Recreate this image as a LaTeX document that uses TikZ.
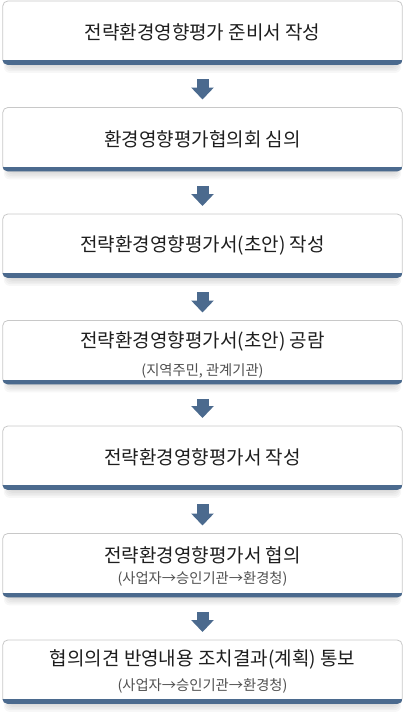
\documentclass[tikz,border=0pt]{standalone}
\usepackage{fontspec}
\newfontfamily\kr{Noto Sans CJK KR}
\usetikzlibrary{arrows.meta,backgrounds,calc}
\definecolor{bandblue}{RGB}{75,106,142}
\definecolor{boxline}{RGB}{200,200,200}
\definecolor{maintext}{RGB}{30,30,30}
\definecolor{subtext}{RGB}{80,80,80}
\begin{document}
\begin{tikzpicture}[x=1pt,y=1pt,
  box/.style={minimum width=399pt, minimum height=63pt, inner sep=0pt, anchor=north},
  maintxt/.style={font=\kr\fontsize{19}{22}\selectfont, text=maintext, inner sep=0pt},
  subtxt/.style={font=\kr\fontsize{14.3}{17}\selectfont, text=subtext, inner sep=0pt},
  flowarrow/.style={draw=bandblue, line width=12pt, -{Triangle[width=22pt,length=12pt]}},
]
\useasboundingbox (0,0) rectangle (413,-717);
\node[box] (b1) at (202.5,-1) {};
\node[box] (b2) at (202.5,-107.5) {};
\node[box] (b3) at (202.5,-214) {};
\node[box] (b4) at (202.5,-320.5) {};
\node[box] (b5) at (202.5,-426) {};
\node[box] (b6) at (202.5,-533.5) {};
\node[box] (b7) at (202.5,-640) {};

\node[maintxt] (t1) at ([yshift=-31.5pt]b1.north) {전략환경영향평가 준비서 작성};
\node[maintxt] (t2) at ([yshift=-31.5pt]b2.north) {환경영향평가협의회 심의};
\node[maintxt] (t3) at ([yshift=-31.5pt]b3.north) {전략환경영향평가서(초안) 작성};
\node[maintxt] (t4) at ([yshift=-20.5pt]b4.north) {전략환경영향평가서(초안) 공람};
\node[subtxt] (s4) at ([yshift=-50pt]b4.north) {(지역주민, 관계기관)};
\node[maintxt] (t5) at ([yshift=-31.5pt]b5.north) {전략환경영향평가서 작성};
\node[maintxt] (t6) at ([yshift=-22pt]b6.north) {전략환경영향평가서 협의};
\node[subtxt] (s6) at ([yshift=-45.5pt]b6.north) {(사업자→승인기관→환경청)};
\node[maintxt] (t7) at ([yshift=-19.5pt]b7.north) {협의의견 반영내용 조치결과(계획) 통보};
\node[subtxt] (s7) at ([yshift=-46pt]b7.north) {(사업자→승인기관→환경청)};

\begin{scope}[on background layer]
\foreach \n in {b1,b2,b3,b4,b5,b6,b7} {
  \foreach \k in {1,...,5} {
    \fill[black, opacity=0.03, rounded corners=6pt]
      ([xshift={(6-\k)*1pt}, yshift=-12pt]\n.north west) rectangle
      ([xshift={-(6-\k)*1pt}, yshift={-\k*1.7pt}]\n.south east);
  }
  \filldraw[fill=white, draw=boxline, line width=0.8pt, rounded corners=5pt]
    (\n.north west) rectangle (\n.south east);
  \begin{scope}
    \clip[rounded corners=5pt] ([xshift=-0.4pt,yshift=0.4pt]\n.north west) rectangle ([xshift=0.4pt,yshift=-0.4pt]\n.south east);
    \fill[bandblue] ([xshift=-1pt,yshift=-1pt]\n.south west) rectangle ([xshift=1pt,yshift=4pt]\n.south east);
  \end{scope}
}
\end{scope}

\foreach \a/\b in {b1/b2,b2/b3,b3/b4,b4/b5,b5/b6,b6/b7} {
  \draw[flowarrow] ([yshift=-15pt]\a.south) -- ([yshift=8pt]\b.north);
}
\end{tikzpicture}
\end{document}
